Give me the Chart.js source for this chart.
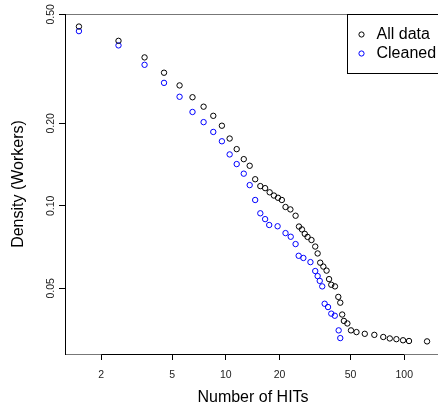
<!DOCTYPE html>
<html>
<head>
<meta charset="utf-8">
<script src="https://cdn.jsdelivr.net/npm/chart.js@4/dist/chart.umd.min.js"></script>
<style>
  html, body { margin: 0; padding: 0; background: #fff; overflow: hidden; }
  #wrap { width: 446px; height: 411px; }
</style>
</head>
<body>
<div id="wrap"><canvas id="hits" width="446" height="411"></canvas></div>
<script>
// HITs per worker vs. share of workers, log-log
const hitsAll = [1.5, 2.5, 3.5, 4.5, 5.5, 6.5, 7.5, 8.5, 9.5, 10.5, 11.5, 12.6, 13.6, 14.6, 15.6, 16.6, 17.6, 18.6, 19.6,
  20.6, 21.6, 23.0, 24.6, 25.7, 26.7, 27.7, 28.7, 30.2, 31.7, 32.7, 33.8, 35.2, 36.7, 37.9, 39.0, 40.9, 42.7, 43.8, 44.9,
  45.9, 48.0, 50.3, 54.0, 60.1, 68.0, 76.3, 83.0, 90.4, 98.5, 106.4, 134.3];
const densityAll = [0.451, 0.400, 0.348, 0.306, 0.275, 0.249, 0.230, 0.213, 0.196, 0.176, 0.161, 0.148, 0.140, 0.125,
  0.118, 0.116, 0.112, 0.109, 0.107, 0.105, 0.099, 0.097, 0.092, 0.084, 0.082, 0.079, 0.077, 0.075, 0.071, 0.067, 0.062,
  0.060, 0.058, 0.054, 0.0515, 0.0508, 0.0465, 0.0443, 0.0401, 0.0380, 0.0372, 0.0351, 0.0346, 0.0341, 0.0338, 0.0332,
  0.0328, 0.0326, 0.0323, 0.0321, 0.0320];

const hitsClean = [1.5, 2.5, 3.5, 4.5, 5.5, 6.5, 7.5, 8.5, 9.5, 10.5, 11.5, 12.6, 13.6, 14.6, 15.6, 16.6, 17.5, 19.5,
  21.6, 23.1, 24.6, 25.6, 27.2, 29.8, 31.7, 32.7, 33.6, 34.7, 35.8, 37.4, 39.0, 40.8, 42.9, 43.8];
const densityClean = [0.434, 0.385, 0.327, 0.281, 0.250, 0.220, 0.202, 0.186, 0.172, 0.154, 0.142, 0.131, 0.119, 0.105,
  0.0939, 0.0894, 0.0851, 0.0842, 0.0795, 0.0771, 0.0725, 0.0657, 0.0645, 0.0623, 0.0578, 0.0554, 0.0532, 0.0508,
  0.0439, 0.0427, 0.0404, 0.0397, 0.0351, 0.0329];

const seriesNames = ['All data', 'Cleaned'];
const seriesColors = ['#000000', '#0000ff'];

const xTicks = [2, 5, 10, 20, 50, 100];
const xTickLabels = ['2', '5', '10', '20', '50', '100'];
const yTicks = [0.05, 0.1, 0.2, 0.5];
const yTickLabels = ['0.05', '0.10', '0.20', '0.50'];

const FONT = "'Liberation Sans', Arial, Helvetica, sans-serif";

const toPoints = (xs, ys) => xs.map((x, i) => ({ x: x, y: ys[i] }));

// R-style frame, axis lines, titles and legend
const framePlugin = {
  id: 'frame',
  afterDatasetsDraw(chart) {
    const { ctx, chartArea: a, scales } = chart;
    const xs = scales.x;
    ctx.save();

    // plot box
    ctx.lineWidth = 1;
    ctx.strokeStyle = '#777';
    ctx.beginPath();
    ctx.moveTo(a.left, a.top + 0.5);
    ctx.lineTo(a.right, a.top + 0.5);
    ctx.moveTo(a.left, a.bottom + 0.5);
    ctx.lineTo(a.right, a.bottom + 0.5);
    ctx.stroke();
    ctx.strokeStyle = '#000';
    ctx.beginPath();
    ctx.moveTo(a.left + 0.5, a.top);
    ctx.lineTo(a.left + 0.5, a.bottom + 1);
    ctx.stroke();

    // axis line between outer ticks
    ctx.lineWidth = 1.2;
    ctx.beginPath();
    ctx.moveTo(xs.getPixelForValue(xTicks[0]), a.bottom + 0.5);
    ctx.lineTo(xs.getPixelForValue(xTicks[xTicks.length - 1]), a.bottom + 0.5);
    ctx.stroke();

    // axis titles
    ctx.fillStyle = '#000';
    ctx.font = '16px ' + FONT;
    ctx.textAlign = 'center';
    ctx.textBaseline = 'middle';
    ctx.fillText('Number of HITs', (a.left + a.right) / 2, 398);
    ctx.save();
    ctx.translate(19, (a.top + a.bottom) / 2);
    ctx.rotate(-Math.PI / 2);
    ctx.fillText('Density (Workers)', 0, 0);
    ctx.restore();

    // legend, top right
    const lx = 347, ly = a.top, lw = 120, lh = 59;
    ctx.fillStyle = '#fff';
    ctx.fillRect(lx, ly, lw, lh);
    ctx.lineWidth = 1;
    ctx.strokeStyle = '#000';
    ctx.strokeRect(lx + 0.5, ly + 0.5, lw, lh);
    ctx.textAlign = 'left';
    seriesNames.forEach((name, i) => {
      const cy = ly + 20.5 + i * 19;
      ctx.strokeStyle = seriesColors[i];
      ctx.beginPath();
      ctx.arc(361.5, cy, 2.6, 0, Math.PI * 2);
      ctx.stroke();
      ctx.fillStyle = '#000';
      ctx.fillText(name, 376.5, cy + 0.5);
    });
    ctx.restore();
  }
};

new Chart(document.getElementById('hits'), {
  type: 'scatter',
  data: {
    datasets: [
      { label: seriesNames[0], data: toPoints(hitsAll, densityAll), borderColor: seriesColors[0] },
      { label: seriesNames[1], data: toPoints(hitsClean, densityClean), borderColor: seriesColors[1] }
    ]
  },
  options: {
    responsive: false,
    animation: false,
    devicePixelRatio: 1,
    layout: { padding: { top: 14, right: 1, left: 0, bottom: 0 } },
    elements: {
      point: { radius: 2.7, borderWidth: 1, backgroundColor: 'rgba(0,0,0,0)', pointStyle: 'circle' }
    },
    plugins: {
      legend: { display: false },
      tooltip: { enabled: false }
    },
    scales: {
      x: {
        type: 'logarithmic',
        min: 1.253,
        max: 160.8,
        afterBuildTicks: (s) => { s.ticks = xTicks.map(v => ({ value: v })); },
        afterFit: (s) => { s.height = 57; },
        grid: { drawOnChartArea: false, drawTicks: true, tickLength: 6, color: '#000', lineWidth: 1 },
        border: { display: false },
        ticks: {
          autoSkip: false,
          maxRotation: 0,
          padding: 9,
          color: '#222',
          font: { family: FONT, size: 10.5 },
          callback: (v) => xTickLabels[xTicks.indexOf(v)]
        }
      },
      y: {
        type: 'logarithmic',
        min: 0.02878,
        max: 0.5012,
        afterBuildTicks: (s) => { s.ticks = yTicks.map(v => ({ value: v })); },
        afterFit: (s) => { s.width = 65; },
        grid: { drawOnChartArea: false, drawTicks: true, tickLength: 6, color: '#000', lineWidth: 1 },
        border: { display: false },
        ticks: {
          autoSkip: false,
          minRotation: 90,
          maxRotation: 90,
          crossAlign: 'center',
          padding: -2,
          color: '#222',
          font: { family: FONT, size: 10.5 },
          callback: (v) => yTickLabels[yTicks.indexOf(v)]
        }
      }
    }
  },
  plugins: [framePlugin]
});
</script>
</body>
</html>
